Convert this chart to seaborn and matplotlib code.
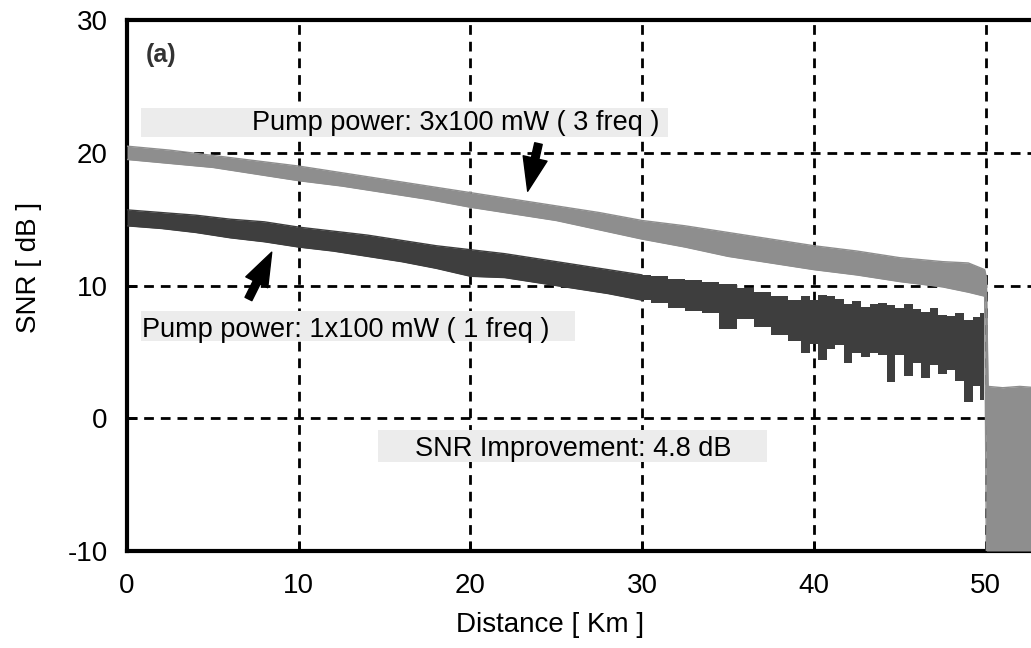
import numpy as np
import pandas as pd
import matplotlib
matplotlib.use('Agg')
import matplotlib.pyplot as plt
from matplotlib.patches import Rectangle
import seaborn as sns

# SNR traces: upper/lower edge of the noisy band (dB)
km_1f = [0, 2, 4, 6, 8, 10, 12, 14, 16, 18, 20, 22, 24, 26, 28, 30, 31, 32, 33, 34,
         35, 36, 37, 38, 39, 39.5, 40, 40.5, 41, 41.5, 42, 42.5, 43, 43.5, 44, 44.5,
         45, 45.5, 46, 46.5, 47, 47.5, 48, 48.5, 49, 49.5, 49.9]
top_1f = [15.7, 15.5, 15.3, 15.0, 14.8, 14.4, 14.1, 13.8, 13.4, 13.0, 12.7, 12.4, 12.0,
          11.6, 11.2, 10.8, 10.7, 10.5, 10.4, 10.3, 10.1, 9.8, 9.5, 9.2, 8.9, 9.2, 8.9,
          9.3, 9.2, 9.0, 8.6, 8.8, 8.4, 8.6, 8.7, 8.5, 8.3, 8.6, 8.2, 8.0, 8.3, 7.8, 7.7,
          7.9, 7.4, 7.6, 7.9]
bot_1f = [14.5, 14.3, 14.0, 13.6, 13.3, 12.9, 12.6, 12.2, 11.8, 11.3, 10.7, 10.6, 10.2,
          9.8, 9.4, 8.9, 8.7, 8.3, 8.1, 7.9, 6.7, 7.5, 6.9, 6.3, 5.8, 4.9, 5.6, 4.4, 5.2,
          5.5, 4.2, 4.9, 4.6, 4.9, 4.8, 2.7, 4.8, 3.2, 4.2, 3.0, 4.0, 3.3, 3.6, 2.8, 1.2,
          2.4, 1.4]

km_3f = [0, 2.5, 5, 7.5, 10, 12.5, 15, 17.5, 20, 22.5, 25, 27.5, 30, 32.5, 35, 37.5,
         40, 42.5, 45, 47.5, 49, 49.95, 50.05, 50.15, 51, 52, 53]
top_3f = [20.5, 20.2, 19.8, 19.4, 19.0, 18.5, 18.0, 17.5, 17.0, 16.5, 16.0, 15.5, 14.9,
          14.5, 14.0, 13.5, 13.0, 12.6, 12.1, 11.8, 11.7, 11.2, 10.6, 2.4, 2.3, 2.4, 2.3]
bot_3f = [19.5, 19.2, 18.9, 18.4, 17.9, 17.5, 17.0, 16.5, 15.9, 15.4, 14.9, 14.2, 13.5,
          12.9, 12.2, 11.7, 11.2, 10.8, 10.3, 9.9, 9.5, 9.2, -10, -10, -10, -10, -10]

lbl_3f = 'Pump power: 3x100 mW ( 3 freq )'
lbl_1f = 'Pump power: 1x100 mW ( 1 freq )'
lbl_gain = 'SNR Improvement: 4.8 dB'

x_ticks = [0, 10, 20, 30, 40, 50]
y_ticks = [-10, 0, 10, 20, 30]

sns.set_style('ticks')
plt.rcParams['font.family'] = ['Liberation Sans', 'DejaVu Sans']
plt.rcParams['axes.unicode_minus'] = False
plt.rcParams['text.color'] = 'black'
plt.rcParams['axes.labelcolor'] = 'black'
plt.rcParams['xtick.color'] = 'black'
plt.rcParams['ytick.color'] = 'black'

C3 = '#8e8e8e'
C1 = '#3e3e3e'
BOX = '#ececec'

fig = plt.figure(figsize=(10.31, 6.48), dpi=100)
ax = fig.add_axes([0.1232, 0.1497, 0.8768, 0.8193])

df3 = pd.DataFrame({'km': km_3f, 'top': top_3f, 'bot': bot_3f})
df1 = pd.DataFrame({'km': km_1f, 'top': top_1f, 'bot': bot_1f})
smooth = df1[df1['km'] <= 30]
noisy = df1[df1['km'] >= 30]

ax.fill_between(df3['km'], df3['bot'], df3['top'], color=C3, lw=0, zorder=3)
ax.fill_between(smooth['km'], smooth['bot'], smooth['top'], color=C1, lw=0, zorder=4)
ax.fill_between(noisy['km'], noisy['bot'], noisy['top'], color=C1, lw=0, zorder=4, step='mid')
for col in ['top', 'bot']:
    sns.lineplot(data=df3, x='km', y=col, ax=ax, color=C3, lw=1, zorder=3)
    sns.lineplot(data=smooth, x='km', y=col, ax=ax, color=C1, lw=1, zorder=4)

# label background boxes
for x0, x1, y0, y1 in [(0.8, 31.5, 21.2, 23.4), (0.8, 26.1, 5.8, 8.05), (14.6, 37.3, -3.3, -0.85)]:
    ax.add_patch(Rectangle((x0, y0), x1 - x0, y1 - y0, fc=BOX, ec='none', zorder=2))

ax.text(7.3, 21.7, lbl_3f, fontsize=19.5, va='baseline', ha='left', zorder=5)
ax.text(0.9, 6.1, lbl_1f, fontsize=19.5, va='baseline', ha='left', zorder=5)
ax.text(16.8, -2.88, lbl_gain, fontsize=19.5, va='baseline', ha='left', zorder=5)
ax.text(1.1, 27.4, '(a)', fontsize=18, fontweight='bold', color='#333333',
        va='center', ha='left', zorder=5)

arrow = dict(arrowstyle='simple,head_length=1.1,head_width=0.8,tail_width=0.25',
             mutation_scale=22, fc='black', ec='black')
ax.annotate('', xy=(23.3, 16.9), xytext=(24.0, 20.9), arrowprops=arrow, zorder=6)
ax.annotate('', xy=(8.5, 12.7), xytext=(7.0, 8.8), arrowprops=arrow, zorder=6)

ax.set_xlim(0, 52.65)
ax.set_ylim(-10, 30)
ax.set_xticks(x_ticks)
ax.set_yticks(y_ticks)
ax.grid(True, color='black', lw=2, linestyle=(0, (3.5, 2.5)), zorder=1)
ax.set_axisbelow(True)
ax.tick_params(direction='in', length=7, width=2, labelsize=20, pad=14)
ax.tick_params(axis='x', pad=16)
for s in ['left', 'bottom', 'top']:
    ax.spines[s].set_linewidth(3)
    ax.spines[s].set_color('black')
ax.spines['right'].set_visible(False)

ax.set_xlabel('Distance [ Km ]', fontsize=20)
ax.set_ylabel('SNR [ dB ]', fontsize=20)
ax.xaxis.set_label_coords(0.468, -0.115)
ax.yaxis.set_label_coords(-0.094, 0.535)

fig.savefig('out.png', dpi=100)
